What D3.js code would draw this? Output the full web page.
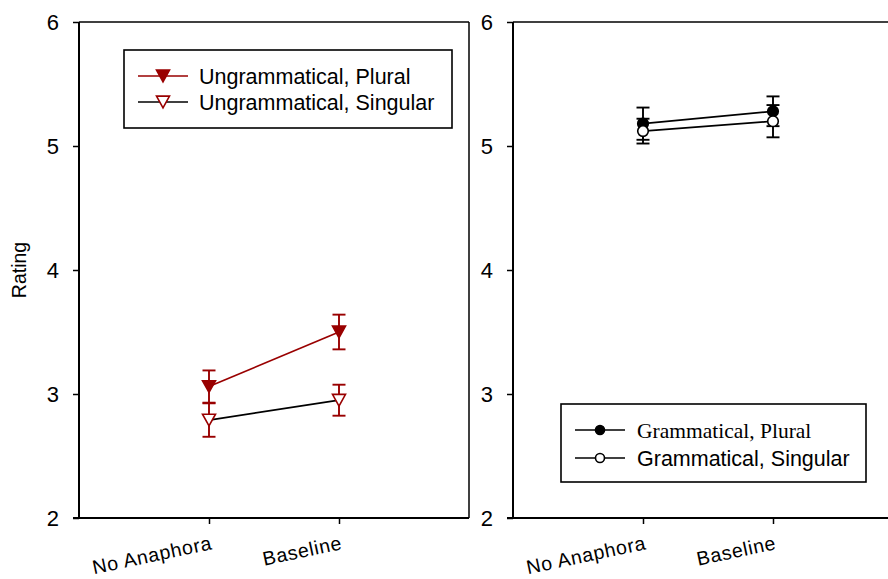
<!DOCTYPE html>
<html><head><meta charset="utf-8">
<script src="https://cdn.jsdelivr.net/npm/d3@7"></script>
<style>body{margin:0;background:#fff}svg{display:block}</style>
</head><body>
<svg id="c" width="888" height="579"></svg>
<script>
const categories = ["No Anaphora", "Baseline"];
const yTicks = [2, 3, 4, 5, 6];
// Left panel
const ungramPlural = [3.06, 3.50];
const ungramPluralErr = [0.13, 0.14];
const ungramSingular = [2.79, 2.95];
const ungramSingularErr = [0.135, 0.125];
// Right panel
const gramPlural = [5.18, 5.28];
const gramPluralErr = [0.13, 0.12];
const gramSingular = [5.12, 5.20];
const gramSingularErr = [0.10, 0.13];

const RED = "#990000";
const svg = d3.select("#c");
const font = "'Liberation Sans', Arial, sans-serif";

const y = d3.scaleLinear().domain([2, 6]).range([518, 22]);
const x = d3.scaleLinear().domain([0, 3]).range([0, 390]);

function tri(cx, cy, s) {
  const h = s * 0.9;
  return `M${cx - s / 2},${cy - h / 2}L${cx + s / 2},${cy - h / 2}L${cx},${cy + h / 2}Z`;
}

function panel(left, opts) {
  const g = svg.append("g").attr("transform", `translate(${left},0)`);
  g.append("line").attr("x1", 0).attr("x2", 390).attr("y1", y(6)).attr("y2", y(6))
    .attr("stroke", "#000").attr("stroke-width", 1.5);
  g.append("line").attr("x1", 390).attr("x2", 390).attr("y1", y(6)).attr("y2", y(2))
    .attr("stroke", "#000").attr("stroke-width", 1.5);
  const ya = g.append("g").call(d3.axisLeft(y).tickValues(yTicks).tickSize(6).tickPadding(14).tickFormat(d3.format("d")));
  ya.select(".domain").attr("stroke-width", 2).attr("d", `M0,${y(6)}V${y(2)}`);
  ya.selectAll(".tick line").attr("stroke-width", 1.5);
  ya.selectAll("text").attr("font-family", font).attr("font-size", 22).attr("fill", "#000");
  const xa = g.append("g").attr("transform", `translate(0,${y(2)})`)
    .call(d3.axisBottom(x).tickValues([1, 2]).tickSize(6).tickFormat(""));
  xa.select(".domain").attr("stroke-width", 2).attr("d", "M-6,0H390");
  xa.selectAll(".tick line").attr("stroke-width", 1.5);
  categories.forEach((c, i) => {
    g.append("text").attr("transform", `translate(${x(i + 1) + 4},${y(2) + 31}) rotate(-12)`)
      .attr("text-anchor", "end").attr("font-family", font).attr("font-size", 19.5)
      .attr("letter-spacing", 0.7).text(c);
  });
  opts.series.forEach(s => {
    const pts = s.vals.map((v, i) => [x(i + 1), y(v)]);
    g.append("path").attr("d", d3.line()(pts)).attr("fill", "none")
      .attr("stroke", s.line).attr("stroke-width", 1.7);
  });
  opts.series.forEach(s => {
    s.vals.forEach((v, i) => {
      const cx = x(i + 1), e = s.err[i];
      const eg = g.append("g").attr("stroke", s.errColor).attr("stroke-width", 1.9);
      eg.append("line").attr("x1", cx).attr("x2", cx).attr("y1", y(v + e)).attr("y2", y(v - e));
      [v + e, v - e].forEach(t => eg.append("line").attr("x1", cx - 6.5).attr("x2", cx + 6.5).attr("y1", y(t)).attr("y2", y(t)));
    });
  });
  opts.series.forEach(s => {
    s.vals.forEach((v, i) => drawMarker(g, s, x(i + 1), y(v)));
  });
  const L = opts.legend;
  g.append("rect").attr("x", L.x).attr("y", L.y).attr("width", L.w).attr("height", L.h)
    .attr("fill", "#fff").attr("stroke", "#000").attr("stroke-width", 1.6);
  opts.series.forEach((s, k) => {
    const ly = L.y + L.first + k * L.gap;
    g.append("line").attr("x1", L.x + L.lx0).attr("x2", L.x + L.lx1).attr("y1", ly).attr("y2", ly)
      .attr("stroke", s.line).attr("stroke-width", 1.7);
    drawMarker(g, s, L.x + (L.lx0 + L.lx1) / 2, ly, true);
    g.append("text").attr("x", L.x + L.tx).attr("y", ly + 7.5).attr("font-family", s.legendFont || font)
      .attr("font-size", s.legendSize || 21.5).text(s.name);
  });
}

function drawMarker(g, s, cx, cy, legend) {
  if (s.shape === "tri") {
    g.append("path").attr("d", tri(cx, cy, 13)).attr("fill", s.fill).attr("stroke", s.stroke).attr("stroke-width", 1.6);
  } else {
    g.append("circle").attr("cx", cx).attr("cy", cy).attr("r", legend ? 4.5 : 5.3)
      .attr("fill", s.fill).attr("stroke", s.stroke).attr("stroke-width", 1.6);
  }
}

panel(79, {
  series: [
    { name: "Ungrammatical, Plural", vals: ungramPlural, err: ungramPluralErr, line: RED, errColor: RED, shape: "tri", fill: RED, stroke: RED },
    { name: "Ungrammatical, Singular", vals: ungramSingular, err: ungramSingularErr, line: "#000", errColor: RED, shape: "tri", fill: "#fff", stroke: RED }
  ],
  legend: { x: 45, y: 50, w: 328, h: 78, first: 26, gap: 26, lx0: 14, lx1: 64, tx: 75 }
});

svg.append("text").attr("transform", "translate(26,270) rotate(-90)").attr("text-anchor", "middle")
  .attr("font-family", font).attr("font-size", 19.5).text("Rating");

panel(513, {
  series: [
    { name: "Grammatical, Plural", vals: gramPlural, err: gramPluralErr, line: "#000", errColor: "#000", shape: "circle", fill: "#000", stroke: "#000", legendFont: "'Liberation Serif', 'Times New Roman', serif", legendSize: 21.5 },
    { name: "Grammatical, Singular", vals: gramSingular, err: gramSingularErr, line: "#000", errColor: "#000", shape: "circle", fill: "#fff", stroke: "#000" }
  ],
  legend: { x: 48, y: 404, w: 305, h: 78, first: 26, gap: 28, lx0: 14, lx1: 64, tx: 76 }
});
</script>
</body></html>
